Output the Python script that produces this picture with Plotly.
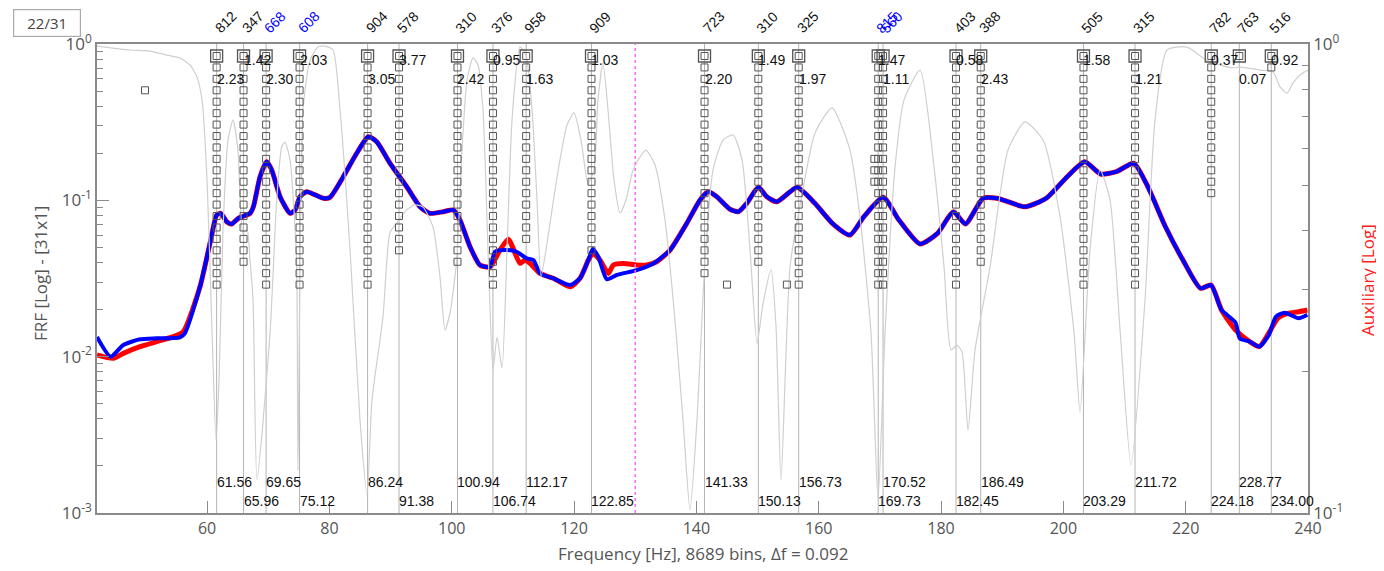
import plotly.graph_objects as go

# ---------------- data ----------------
blue_freq = [42.0, 44.24, 46.30, 49.03, 51.76, 55.57, 56.39, 58.84, 60.48, 61.57, 62.23, 63.21, 64.03, 65.11,
             67.02, 67.57, 68.66, 69.75, 70.57, 71.93, 73.56, 74.38, 75.19, 76.29, 79.0, 80.1, 82.27, 84.46,
             86.36, 87.73, 89.91, 92.64, 94.81, 96.45, 98.62, 100.26, 101.35, 102.99, 104.62, 106.26, 107.07,
             108.99, 110.62, 112.26, 113.35, 114.44, 116.62, 119.35, 120.98, 122.34, 123.06, 123.97, 125.35,
             126.98, 130.25, 132.97, 135.7, 138.43, 140.6, 141.95, 143.33, 145.5, 146.86, 148.24, 150.14,
             151.51, 153.15, 155.32, 156.5, 159.38, 162.23, 165.1, 167.39, 170.54, 173.12, 176.57, 179.43,
             182.01, 184.0, 186.88, 189.17, 193.75, 197.2, 200.63, 203.49, 206.08, 208.66, 211.52, 213.81,
             216.69, 219.55, 222.41, 224.15, 225.86, 228.15, 228.84, 230.44, 232.04, 233.6, 234.74, 236.18,
             238.47, 239.89]
blue_frf = [0.01336, 0.0100, 0.01188, 0.01291, 0.01310, 0.01330, 0.01416, 0.0280, 0.0533, 0.0805, 0.0826,
            0.0730, 0.0706, 0.0768, 0.0826, 0.0910, 0.1416, 0.1766, 0.1563, 0.1055, 0.0826, 0.0867, 0.1055,
            0.1135, 0.1031, 0.1046, 0.1416, 0.2000, 0.2553, 0.2371, 0.1725, 0.1222, 0.0910, 0.0826, 0.0846,
            0.0867, 0.0748, 0.0505, 0.0385, 0.0376, 0.0469, 0.0481, 0.0469, 0.0425, 0.0415, 0.0341, 0.0317,
            0.0287, 0.0317, 0.0415, 0.0489, 0.0436, 0.0313, 0.0333, 0.0358, 0.0395, 0.0481, 0.0713, 0.1005,
            0.1135, 0.1055, 0.0877, 0.0846, 0.0957, 0.1211, 0.1055, 0.0980, 0.1135, 0.1211, 0.0957, 0.0713,
            0.0600, 0.0786, 0.1046, 0.0748, 0.0526, 0.0615, 0.0846, 0.0706, 0.1031, 0.1031, 0.0910, 0.1031,
            0.1416, 0.1766, 0.1474, 0.1525, 0.1725, 0.1222, 0.0678, 0.0415, 0.0274, 0.0287, 0.0199, 0.0165,
            0.0131, 0.0125, 0.0116, 0.01376, 0.0180, 0.0191, 0.0176, 0.0185]

red_freq = [42.0, 44.67, 46.30, 49.03, 51.76, 54.47, 56.10, 58.84, 60.48, 61.57, 62.23, 63.21, 64.03, 65.11,
            67.02, 67.57, 68.66, 69.75, 70.57, 71.93, 73.56, 74.38, 75.19, 76.29, 79.0, 80.1, 82.27, 84.46,
            86.36, 87.73, 89.91, 92.64, 94.81, 96.45, 98.62, 100.26, 101.35, 102.99, 104.62, 106.26, 107.9,
            109.26, 111.17, 111.99, 112.8, 114.44, 116.62, 119.35, 120.98, 122.34, 123.06, 124.25, 125.6,
            126.42, 128.06, 130.25, 131.88, 133.52, 135.7, 138.43, 140.6, 141.95, 143.33, 145.5, 146.86,
            148.24, 150.14, 151.51, 153.15, 155.32, 156.5, 159.38, 162.23, 165.1, 167.39, 170.54, 173.12,
            176.57, 179.43, 182.01, 184.0, 186.88, 189.17, 193.75, 197.2, 200.63, 203.49, 206.08, 208.66,
            211.52, 213.81, 216.69, 219.55, 222.41, 224.15, 225.86, 228.15, 230.44, 232.04, 233.88, 235.04,
            236.74, 238.47, 239.89]
red_frf = [0.01025, 0.00977, 0.0105, 0.01158, 0.01247, 0.01342, 0.01445, 0.0280, 0.0533, 0.0805, 0.0826,
           0.0730, 0.0706, 0.0768, 0.0826, 0.0910, 0.1416, 0.1766, 0.1563, 0.1055, 0.0826, 0.0867, 0.1055,
           0.1135, 0.1031, 0.1046, 0.1416, 0.2000, 0.2553, 0.2371, 0.1725, 0.1222, 0.0910, 0.0826, 0.0846,
           0.0867, 0.0748, 0.0505, 0.0385, 0.0376, 0.0481, 0.0563, 0.0395, 0.0415, 0.0395, 0.0341, 0.0317,
           0.0280, 0.0317, 0.0415, 0.0458, 0.0415, 0.0341, 0.0386, 0.0395, 0.0386, 0.0386, 0.0405, 0.0481,
           0.0713, 0.1005, 0.1135, 0.1055, 0.0877, 0.0846, 0.0957, 0.1211, 0.1055, 0.0980, 0.1135, 0.1211,
           0.0957, 0.0713, 0.0600, 0.0786, 0.1046, 0.0748, 0.0526, 0.0615, 0.0846, 0.0706, 0.1031, 0.1031,
           0.0910, 0.1031, 0.1416, 0.1766, 0.1474, 0.1525, 0.1725, 0.1222, 0.0678, 0.0415, 0.0274, 0.0287,
           0.0199, 0.0148, 0.0125, 0.0116, 0.0148, 0.0176, 0.0189, 0.0194, 0.0199]

aux_freq = [42.0, 47.40, 50.67, 53.45, 55.57, 57.21, 58.35, 59.17, 59.99, 60.80, 61.46, 61.95, 62.60, 63.42,
            64.24, 65.05, 65.87, 66.53, 67.02, 67.51, 68.16, 70.29, 71.38, 72.2, 72.74, 73.56, 74.1, 74.65,
            74.86, 75.68, 76.83, 78.13, 79.28, 80.59, 81.73, 83.37, 85.0, 86.15, 86.96, 88.76, 89.9, 91.0,
            92.64, 93.99, 95.30, 96.94, 98.08, 98.90, 99.72, 100.81, 101.68, 102.5, 103.48, 104.3, 105.11,
            105.93, 106.75, 107.4, 108.22, 109.04, 109.86, 111.16, 112.14, 113.13, 113.94, 114.6, 115.58,
            116.56, 117.70, 118.85, 119.99, 121.14, 122.28, 123.26, 123.91, 124.73, 125.55, 126.53, 127.51,
            128.49, 129.64, 130.78, 131.77, 133.23, 134.87, 136.5, 137.81, 138.96, 140.1, 141.41, 142.72,
            144.36, 145.99, 147.47, 148.77, 149.92, 150.9, 152.21, 153.02, 153.84, 155.31, 157.11, 159.40,
            162.18, 165.12, 166.75, 168.55, 169.70, 170.84, 172.48, 173.95, 176.57, 178.85, 180.49, 181.63,
            182.61, 183.43, 184.41, 185.56, 188.01, 190.95, 193.73, 196.68, 199.46, 201.75, 202.73, 204.36,
            206.0, 207.63, 209.27, 211.07, 213.35, 214.99, 216.95, 220.22, 222.84, 224.47, 227.74, 228.89,
            232.16, 234.28, 235.43, 236.57, 237.55, 238.70, 240.0]
aux_val = [0.990, 0.971, 0.966, 0.947, 0.934, 0.902, 0.850, 0.760, 0.513, 0.246, 0.143, 0.192, 0.401, 0.624,
           0.689, 0.594, 0.396, 0.401, 0.346, 0.2845, 0.118, 0.242, 0.465, 0.603, 0.618, 0.566, 0.465, 0.335,
           0.1235, 0.723, 0.924, 0.985, 0.990, 0.971, 0.723, 0.364, 0.158, 0.109, 0.174, 0.262, 0.396, 0.415,
           0.443, 0.454, 0.449, 0.407, 0.3186, 0.2456, 0.267, 0.346, 0.594, 0.838, 0.934, 0.902, 0.723,
           0.364, 0.2018, 0.2373, 0.2038, 0.364, 0.689, 0.985, 0.947, 0.723, 0.465, 0.3186, 0.3764,
           0.458, 0.566, 0.672, 0.713, 0.624, 0.505, 0.539, 0.760, 0.911, 0.723, 0.513, 0.436,
           0.465, 0.539, 0.574, 0.594, 0.552, 0.421, 0.258, 0.158, 0.1015, 0.158, 0.346, 0.539,
           0.624, 0.640, 0.566, 0.364, 0.230, 0.280, 0.330, 0.250, 0.1176, 0.3346, 0.465, 0.646,
           0.7306, 0.594, 0.428, 0.242, 0.1066, 0.242, 0.547, 0.760, 0.880, 0.547, 0.3346, 0.2226,
           0.228, 0.2204, 0.150, 0.2226, 0.3346, 0.594, 0.682, 0.624, 0.428, 0.242, 0.164, 0.364,
           0.539, 0.465, 0.2456, 0.1265, 0.2845, 0.689, 0.971, 0.985, 0.934, 0.911, 0.889, 0.893,
           0.880, 0.872, 0.810, 0.786, 0.826, 0.859, 0.880]

mode_freq = [61.56, 65.96, 69.65, 75.12, 86.24, 91.38, 100.94, 106.74, 112.17, 122.85, 141.33,
             150.13, 156.73, 169.73, 170.52, 182.45, 186.49, 203.29, 211.72, 224.18, 228.77, 234.00]
mode_id = ["812", "347", "668", "608", "904", "578", "310", "376", "958", "909", "723",
           "310", "325", "815", "560", "403", "388", "505", "315", "782", "763", "516"]
mode_id_blue = [False, False, True, True, False, False, False, False, False, False, False,
                False, False, True, True, False, False, False, False, False, False, False]
mode_damping = ["2.23", "1.42", "2.30", "2.03", "3.05", "3.77", "2.42", "0.95", "1.63", "1.03", "2.20",
                "1.49", "1.97", "1.47", "1.11", "0.58", "2.43", "1.58", "1.21", "0.37", "0.07", "0.92"]
# lowest model order at which each mode is still marked stable (top order = 42, step 2)
mode_low_order = [2, 6, 2, 2, 2, 8, 6, 2, 10, 8, 4, 6, 2, 2, 2, 2, 6, 2, 2, 18, 42, 40]
top_order = 42
# isolated pole markers (frequency, model order)
extra_pole_freq = [49.85, 145.0, 154.8, 169.1, 169.1, 169.1]
extra_pole_order = [36, 2, 2, 24, 22, 20]

cursor_freq = 130.0
x_ticks = [60, 80, 100, 120, 140, 160, 180, 200, 220, 240]

# ---------------- figure ----------------
NUM_FONT = "Liberation Sans, Arial, sans-serif"
NUM_SIZE = 14
AX_FONT = "Open Sans, Noto Sans, sans-serif"
AXC = "#8a8a8a"
TXC = "#555555"

fig = go.Figure()

# auxiliary (right axis)
fig.add_trace(go.Scatter(x=aux_freq, y=aux_val, yaxis="y2", mode="lines",
                         line=dict(color="#cfcfcf", width=1.2, shape="spline", smoothing=0.6),
                         hoverinfo="skip", showlegend=False))

# vertical mode lines
for f in mode_freq:
    fig.add_shape(type="line", xref="x", yref="paper", x0=f, x1=f, y0=0, y1=1,
                  line=dict(color="#b4b4b4", width=1), layer="below")
fig.add_shape(type="line", xref="x", yref="paper", x0=cursor_freq, x1=cursor_freq, y0=0, y1=1,
              line=dict(color="#ff66ff", width=1.5, dash="dot"))

# measured / synthesized FRF
fig.add_trace(go.Scatter(x=red_freq, y=red_frf, mode="lines",
                         line=dict(color="#ff0000", width=5, shape="spline", smoothing=0.6),
                         hoverinfo="skip", showlegend=False))
fig.add_trace(go.Scatter(x=blue_freq, y=blue_frf, mode="lines",
                         line=dict(color="#0000ff", width=4, shape="spline", smoothing=0.6),
                         hoverinfo="skip", showlegend=False))

# stabilization markers
sq_x, sq_y = [], []
for f, lo in zip(mode_freq, mode_low_order):
    for n in range(top_order, lo - 1, -2):
        sq_x.append(f)
        sq_y.append(n)
sq_x += extra_pole_freq
sq_y += extra_pole_order
fig.add_trace(go.Scatter(x=sq_x, y=sq_y, yaxis="y3", mode="markers",
                         marker=dict(symbol="square-open", size=7, color="#555555", line=dict(width=1)),
                         hoverinfo="skip", showlegend=False))
fig.add_trace(go.Scatter(x=mode_freq, y=[top_order] * len(mode_freq), yaxis="y3", mode="markers",
                         marker=dict(symbol="square-open", size=12, color="#555555", line=dict(width=1.3)),
                         hoverinfo="skip", showlegend=False))

# annotations
ann = []
for i, (f, mid, blue, d) in enumerate(zip(mode_freq, mode_id, mode_id_blue, mode_damping)):
    ann.append(dict(x=f, y=1.047, xref="x", yref="paper", text=mid, showarrow=False,
                    textangle=-45, xshift=9, xanchor="center", yanchor="middle",
                    font=dict(family=NUM_FONT, size=NUM_SIZE, color="#0000ff" if blue else "#111111")))
    ann.append(dict(x=f, y=(0.9264 if i % 2 == 0 else 0.9659), xref="x", yref="paper", text=d,
                    showarrow=False, xanchor="left", yanchor="middle", xshift=-2,
                    font=dict(family=NUM_FONT, size=NUM_SIZE, color="#111111")))
    ann.append(dict(x=f, y=(0.0661 if i % 2 == 0 else 0.0256), xref="x", yref="paper",
                    text="%.2f" % f, showarrow=False, xanchor="left", yanchor="middle", xshift=-2,
                    font=dict(family=NUM_FONT, size=NUM_SIZE, color="#111111")))

ann.append(dict(x=0.5, y=-0.0874, xref="paper", yref="paper", showarrow=False,
                xanchor="center", yanchor="middle",
                text="Frequency [Hz], 8689 bins, \u0394f = 0.092", font=dict(family=AX_FONT, size=17, color=TXC)))
ann.append(dict(x=-0.0462, y=0.5096, xref="paper", yref="paper", showarrow=False, textangle=-90,
                xanchor="center", yanchor="middle",
                text="FRF [Log] - [31x1]", font=dict(family=AX_FONT, size=17, color=TXC)))
ann.append(dict(x=1.0487, y=0.4968, xref="paper", yref="paper", showarrow=False, textangle=-90,
                xanchor="center", yanchor="middle",
                text="Auxiliary [Log]", font=dict(family=AX_FONT, size=17, color="#ff2020")))
ann.append(dict(x=-0.0417, y=1.0448, xref="paper", yref="paper", showarrow=False,
                xanchor="center", yanchor="middle", width=64, height=24, borderpad=1,
                bordercolor="#aaaaaa", borderwidth=1.2, bgcolor="white",
                text="22/31", font=dict(family=AX_FONT, size=15, color="#444444")))

minor_left = [m * 10.0 ** e for e in (-3, -2, -1) for m in range(2, 10)]
minor_right = [m * 0.1 for m in range(2, 10)]

fig.update_layout(
    width=1376, height=563, autosize=False,
    margin=dict(l=89, r=76, t=36, b=58),
    paper_bgcolor="white", plot_bgcolor="white",
    annotations=ann,
    xaxis=dict(range=[42, 240], tickvals=x_ticks, ticks="inside", ticklen=12, tickcolor=AXC,
               showline=True, linecolor=AXC, linewidth=1.5, mirror=True, showgrid=False, zeroline=False,
               tickfont=dict(family=AX_FONT, size=16, color=TXC)),
    yaxis=dict(type="log", range=[-3, 0], tickvals=[0.001, 0.01, 0.1, 1],
               ticktext=["10<sup>-3</sup>", "10<sup>-2</sup>", "10<sup>-1</sup>", "10<sup>0</sup>"],
               ticks="inside", ticklen=12, tickcolor=AXC, showline=True, linecolor=AXC, linewidth=1.5,
               showgrid=False, zeroline=False, tickfont=dict(family=AX_FONT, size=17, color=TXC),
               minor=dict(tickmode="array", tickvals=minor_left, ticks="inside", ticklen=6, tickcolor=AXC,
                          showgrid=False)),
    yaxis2=dict(type="log", range=[-1, 0], overlaying="y", side="right", tickvals=[0.1, 1],
                ticktext=["10<sup>-1</sup>", "10<sup>0</sup>"],
                ticks="inside", ticklen=12, tickcolor=AXC, showline=True, linecolor=AXC, linewidth=1.5,
                showgrid=False, zeroline=False, tickfont=dict(family=AX_FONT, size=17, color=TXC),
                minor=dict(tickmode="array", tickvals=minor_right, ticks="inside", ticklen=6, tickcolor=AXC,
                           showgrid=False)),
    yaxis3=dict(range=[-37.96, 44.1], overlaying="y", visible=False, showgrid=False, zeroline=False),
)

fig.write_html("out.html")
